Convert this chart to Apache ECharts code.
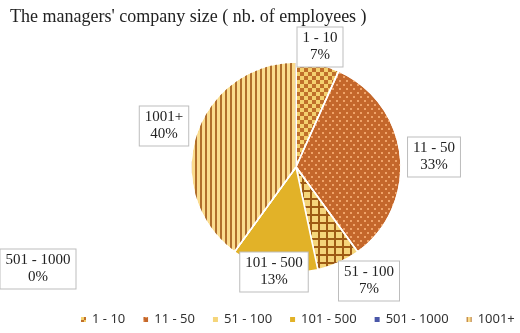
<!DOCTYPE html>
<html lang="en">
<head>
<meta charset="UTF-8">
<title>Company size</title>
<script src="https://cdn.jsdelivr.net/npm/echarts@6/dist/echarts.min.js"></script>
<style>
  html, body { margin: 0; padding: 0; background: #fff; }
  #chart { width: 520px; height: 333px; }
</style>
</head>
<body>
<div id="chart"></div>
<script>
var categories = ['1 - 10', '11 - 50', '51 - 100', '101 - 500', '501 - 1000', '1001+'];
var counts = [1, 5, 1, 2, 0, 6];

var chart = echarts.init(document.getElementById('chart'));

// fill + pattern per slice
var styles = [
  { color: '#F4D06E', decal: { symbol: 'rect', symbolSize: 1, color: '#C0702A',
      dashArrayX: [[4, 4], [0, 4, 4, 0]], dashArrayY: [4, 0] } },
  { color: '#C4672B', decal: { symbol: 'rect', symbolSize: 1, color: '#EFA368',
      dashArrayX: [[1.5, 4.5], [0, 3, 1.5, 1.5]], dashArrayY: [1.5, 1.5] } },
  { color: '#9E5B14', decal: { symbol: 'rect', symbolSize: 1, color: '#F5D57A',
      dashArrayX: [6, 1.4], dashArrayY: [6, 1.4] } },
  { color: '#E2B228' },
  { color: '#4A57A8' },
  { color: '#FADC8E', decal: { symbol: 'rect', symbolSize: 1, color: '#B06E2C',
      dashArrayX: [1.2, 2.2], dashArrayY: [5, 0] } }
];
// label box centres (Excel placed them by hand)
var labelPos = [[320, 47], [434, 157], [369, 281], [274, 272], [38, 269], [164, 126]];

var data = [];
for (var i = 0; i < categories.length; i++) {
  var st = { color: styles[i].color, borderColor: '#fff', borderWidth: 1.5 };
  if (styles[i].decal) st.decal = styles[i].decal;
  data.push({ name: categories[i], value: counts[i], itemStyle: st });
}

var option = {
  animation: false,
  title: {
    text: "The managers' company size ( nb. of employees )",
    left: 5, top: 3,
    textStyle: { fontFamily: 'Liberation Serif', fontSize: 18, fontWeight: 'normal', color: '#222' }
  },
  legend: {
    left: 79, top: 313,
    padding: 0,
    itemWidth: 7, itemHeight: 7, itemGap: 16,
    icon: 'rect',
    data: categories,
    textStyle: { fontFamily: 'Noto Sans', fontSize: 13, color: '#333' }
  },
  series: [{
    type: 'pie',
    center: [296, 167],
    radius: 105,
    startAngle: 90,
    clockwise: true,
    percentPrecision: 0,
    minShowLabelAngle: -1,
    avoidLabelOverlap: false,
    emphasis: { disabled: true },
    label: {
      show: true,
      position: 'outside',
      formatter: '{b}\n{d}%',
      fontFamily: 'Liberation Serif',
      fontSize: 15,
      lineHeight: 17,
      color: '#222',
      align: 'center',
      backgroundColor: '#fff',
      borderColor: '#bdbdbd',
      borderWidth: 1,
      padding: [3, 5, 2, 5]
    },
    labelLine: { show: false },
    labelLayout: function (p) {
      var c = labelPos[p.dataIndex];
      return { x: c[0], y: c[1], align: 'center', verticalAlign: 'middle' };
    },
    data: data
  }]
};
chart.setOption(option);
</script>
</body>
</html>
